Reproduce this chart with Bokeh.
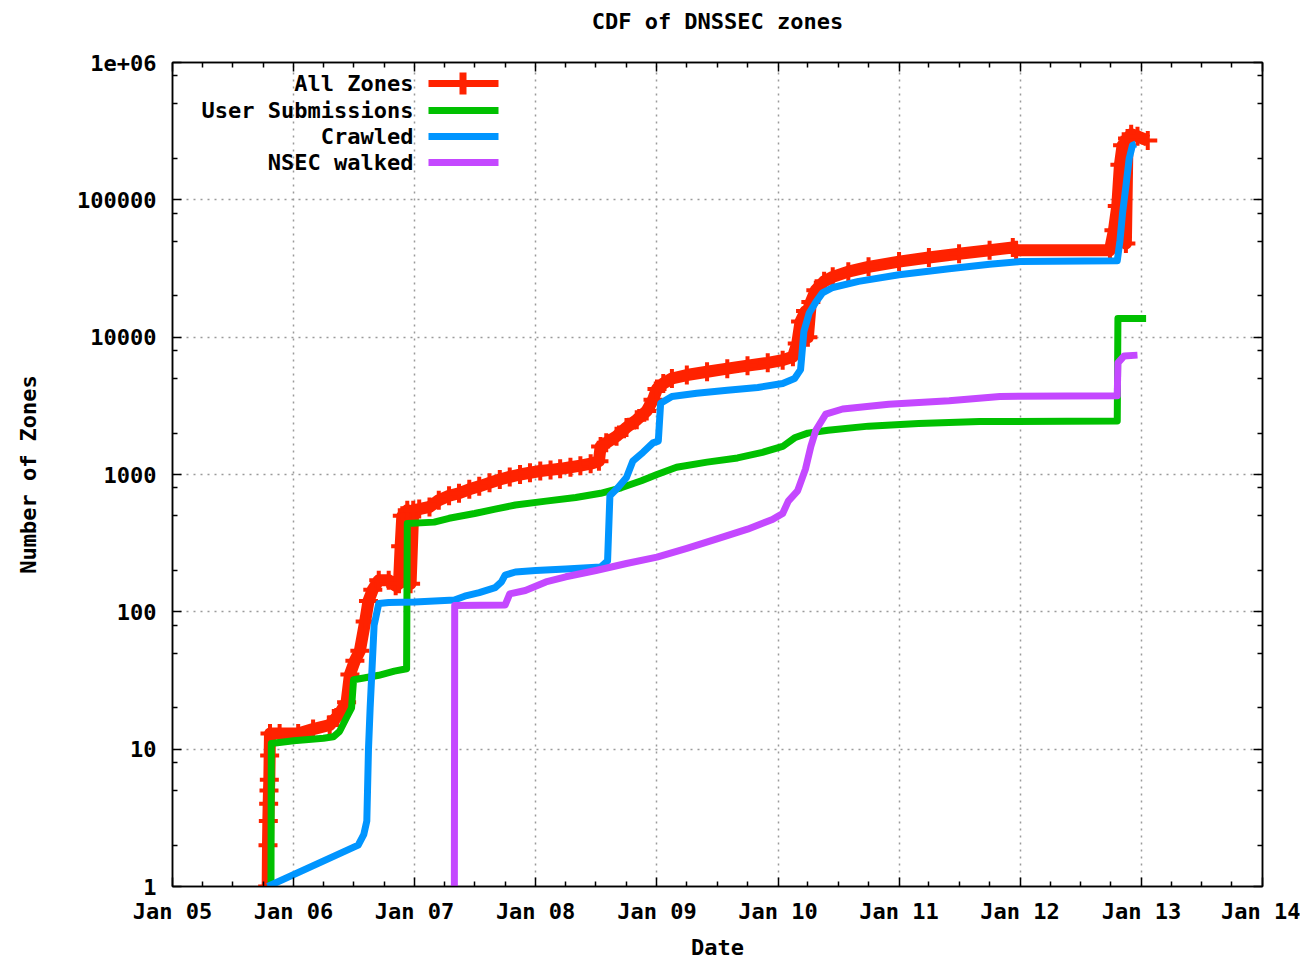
import pandas as pd
from bokeh.plotting import figure
from bokeh.models import (FixedTicker, CustomJSTickFormatter, LinearAxis, LogAxis,
                          Label, BoxAnnotation, Range1d)
from bokeh.embed import file_html
from bokeh.resources import INLINE

# ---------------- data ----------------
all_dates = ["2005-10-15", "2005-10-16", "2005-10-17", "2005-10-18", "2005-10-19", "2005-10-20",
             "2005-10-21", "2005-10-22", "2005-11-20", "2006-01-15", "2006-03-01", "2006-04-20",
             "2006-05-10", "2006-05-25", "2006-06-10", "2006-06-20", "2006-07-05", "2006-07-20",
             "2006-08-05", "2006-08-15", "2006-08-28", "2006-09-15", "2006-10-15", "2006-11-05",
             "2006-11-15", "2006-11-20", "2006-11-25", "2006-12-10", "2006-12-20", "2006-12-28",
             "2007-01-15", "2007-02-15", "2007-03-15", "2007-04-15", "2007-05-15", "2007-06-15",
             "2007-07-15", "2007-08-15", "2007-09-15", "2007-10-15", "2007-11-15", "2007-12-15",
             "2008-01-15", "2008-02-15", "2008-03-15", "2008-04-15", "2008-05-15", "2008-06-15",
             "2008-07-10", "2008-07-15", "2008-08-01", "2008-09-01", "2008-10-01", "2008-11-01",
             "2008-12-01", "2008-12-20", "2009-01-01", "2009-01-20", "2009-02-15", "2009-04-01",
             "2009-06-01", "2009-08-01", "2009-10-01", "2009-12-01", "2010-01-15", "2010-02-15",
             "2010-02-28", "2010-03-10", "2010-03-25", "2010-04-01", "2010-04-10", "2010-04-25",
             "2010-05-20", "2010-06-15", "2010-08-01", "2010-10-01", "2011-01-01", "2011-04-01",
             "2011-07-01", "2011-10-01", "2011-12-10", "2011-12-20", "2012-09-28", "2012-10-10",
             "2012-10-20", "2012-10-28", "2012-11-05", "2012-11-15", "2012-11-20", "2012-12-01",
             "2012-12-20", "2013-01-20"]
all_vals = [1, 2, 3, 4, 5, 6,
            9, 13, 13, 13, 14, 15,
            17, 19, 22, 35, 44, 52,
            85, 120, 145, 170, 170, 155,
            160, 300, 500, 550, 160, 550,
            560, 580, 650, 700, 730, 780,
            820, 870, 920, 960, 1000, 1030,
            1060, 1080, 1100, 1130, 1160, 1200,
            1250, 1600, 1700, 1900, 2200, 2500,
            2900, 3500, 4200, 4600, 5000, 5300,
            5600, 5900, 6200, 6500, 6800, 7200,
            9000, 13000, 15500, 10000, 18000, 22000,
            25500, 27500, 30000, 32500, 35500, 38000,
            40500, 43000, 45000, 43000, 43000, 60000,
            90000, 180000, 250000, 48000, 280000, 300000,
            290000, 270000]

user_dates = ["2005-10-25", "2005-10-26", "2006-01-01", "2006-04-01", "2006-05-01", "2006-05-20",
              "2006-06-10", "2006-06-25", "2006-07-01", "2006-08-01", "2006-09-15", "2006-11-01",
              "2006-12-08", "2006-12-10", "2007-03-01", "2007-04-15", "2007-07-01", "2007-09-01",
              "2007-11-01", "2008-02-01", "2008-05-01", "2008-07-15", "2008-09-15", "2008-11-15",
              "2009-01-01", "2009-03-01", "2009-06-01", "2009-09-01", "2009-11-15", "2010-01-15",
              "2010-02-20", "2010-04-01", "2010-06-01", "2010-10-01", "2011-03-01", "2011-09-01",
              "2012-10-20", "2012-10-22", "2013-01-15"]
user_vals = [1, 11, 11.5, 12, 12.3, 13.5,
             17, 20, 32, 33, 34.5, 37,
             38.5, 440, 450, 480, 520, 560,
             600, 640, 680, 730, 800, 900,
             1000, 1130, 1230, 1320, 1450, 1600,
             1850, 2000, 2100, 2250, 2350, 2430,
             2450, 13700, 13700]

crawl_dates = ["2005-10-15", "2006-07-15", "2006-08-01", "2006-08-10", "2006-08-15", "2006-08-20",
               "2006-09-01", "2006-09-15", "2006-10-15", "2007-01-01", "2007-05-01", "2007-06-01",
               "2007-07-15", "2007-09-01", "2007-09-20", "2007-10-01", "2007-11-01", "2008-01-01",
               "2008-04-01", "2008-07-15", "2008-08-05", "2008-08-12", "2008-09-05", "2008-10-01",
               "2008-10-20", "2008-11-20", "2008-12-20", "2009-01-05", "2009-01-12", "2009-02-15",
               "2009-05-01", "2009-08-01", "2009-11-01", "2010-01-15", "2010-02-20", "2010-03-10",
               "2010-03-20", "2010-04-05", "2010-04-25", "2010-05-15", "2010-06-15", "2010-09-01",
               "2011-01-01", "2011-06-01", "2011-10-01", "2012-01-01", "2012-10-20", "2012-10-28",
               "2012-11-05", "2012-11-15", "2012-11-25", "2012-12-05", "2012-12-15"]
crawl_vals = [1, 2, 2.4, 3, 10, 20,
              80, 115, 117, 118, 122, 130,
              138, 150, 165, 185, 195, 200,
              205, 212, 235, 700, 800, 950,
              1250, 1450, 1700, 1750, 3300, 3700,
              3900, 4100, 4300, 4600, 5000, 5800,
              11000, 15000, 18000, 21000, 23000, 25500,
              28500, 31500, 34000, 35500, 36000, 50000,
              80000, 125000, 200000, 250000, 255000]

nsec_dates = ["2007-05-01", "2007-05-02", "2007-10-01", "2007-10-15", "2007-12-01", "2008-02-01",
              "2008-04-01", "2008-07-01", "2008-10-01", "2009-01-01", "2009-04-01", "2009-07-01",
              "2009-10-01", "2009-12-15", "2010-01-15", "2010-02-01", "2010-03-01", "2010-03-25",
              "2010-04-10", "2010-04-25", "2010-05-25", "2010-07-15", "2010-12-01", "2011-06-01",
              "2011-11-01", "2012-10-20", "2012-10-22", "2012-11-10", "2012-12-20"]
nsec_vals = [1, 111, 112, 135, 143, 165,
             180, 200, 225, 250, 290, 340,
             400, 470, 520, 640, 760, 1100,
             1600, 2100, 2750, 3000, 3250, 3450,
             3700, 3750, 6500, 7300, 7400]

series_names = ["All Zones", "User Submissions", "Crawled", "NSEC walked"]
series_colors = ["#ff2200", "#00c000", "#0095ff", "#c448ff"]

year_ticks = [f"{y}-01-01" for y in range(2005, 2015)]
quarter_ticks = [f"{y}-{m:02d}-01" for y in range(2005, 2014) for m in (4, 7, 10)]
y_ticks = [1, 10, 100, 1000, 10000, 100000, 1000000]
y_minor = [m * 10 ** e for e in range(0, 6) for m in (2, 5, 8)]

FONT = "DejaVu Sans Mono"
FSIZE = "22px"


def to_ms(dates):
    return [pd.Timestamp(d).value / 1e6 for d in dates]


W, H = 1300, 962
FL, FT, FR, FB = 172, 62, 1262, 886
p = figure(width=W, height=H, x_axis_type="datetime", y_axis_type="log",
           output_backend="svg", toolbar_location=None,
           x_range=Range1d(to_ms(["2005-01-01"])[0], to_ms(["2014-01-01"])[0]),
           y_range=Range1d(1, 1e6),
           min_border_left=FL, min_border_right=W - FR, min_border_top=FT,
           min_border_bottom=H - FB)
p.background_fill_color = "white"
p.border_fill_color = "white"
p.outline_line_color = "black"
p.outline_line_width = 1.5

xtick = FixedTicker(ticks=to_ms(year_ticks), minor_ticks=to_ms(quarter_ticks))
ytick = FixedTicker(ticks=y_ticks, minor_ticks=y_minor)

xfmt = CustomJSTickFormatter(code="""
const d = new Date(tick); const y = d.getUTCFullYear() % 100;
return "Jan " + (y < 10 ? "0" + y : "" + y);""")
yfmt = CustomJSTickFormatter(code="""
if (tick > 999999) return "1e+06"; return Math.round(tick).toString();""")
blank = CustomJSTickFormatter(code="return '';")


def style_axis(ax):
    ax.axis_line_color = "black"
    ax.axis_line_width = 1.5
    ax.major_tick_in = 9
    ax.major_tick_out = 0
    ax.minor_tick_in = 5
    ax.minor_tick_out = 0
    ax.major_tick_line_color = "black"
    ax.minor_tick_line_color = "black"
    ax.major_tick_line_width = 1.5
    ax.minor_tick_line_width = 1.5
    ax.major_label_text_font = FONT
    ax.major_label_text_font_size = FSIZE
    ax.major_label_text_font_style = "bold"
    ax.major_label_text_color = "black"
    ax.axis_label_text_font = FONT
    ax.axis_label_text_font_size = FSIZE
    ax.axis_label_text_font_style = "bold"
    ax.axis_label_text_color = "black"


xa = p.xaxis[0]
xa.ticker = xtick
xa.formatter = xfmt
xa.axis_label = "Date"
style_axis(xa)
xa.major_label_standoff = 12
xa.axis_label_standoff = 8

ya = p.yaxis[0]
ya.ticker = ytick
ya.formatter = yfmt
ya.axis_label = "Number of Zones"
style_axis(ya)
ya.major_label_standoff = 16
ya.axis_label_standoff = 33

# top mirror axis carries the chart title as its label
top = LinearAxis(ticker=xtick, formatter=blank, axis_label="CDF of DNSSEC zones")
style_axis(top)
top.major_label_standoff = 0
top.axis_label_standoff = 29
p.add_layout(top, "above")
right = LogAxis(ticker=ytick, formatter=blank)
style_axis(right)
right.major_label_standoff = 0
p.add_layout(right, "right")

for g in (p.xgrid[0], p.ygrid[0]):
    g.grid_line_color = "#9a9a9a"
    g.grid_line_dash = "2 5"
    g.grid_line_width = 1.5

# series: drawn in gnuplot order
p.line(to_ms(all_dates), all_vals, color=series_colors[0], line_width=12, line_join="round")
p.scatter(to_ms(all_dates), all_vals, marker="cross", size=19, line_width=4,
          color=series_colors[0])
p.line(to_ms(user_dates), user_vals, color=series_colors[1], line_width=7, line_join="round")
p.line(to_ms(crawl_dates), crawl_vals, color=series_colors[2], line_width=7, line_join="round")
p.line(to_ms(nsec_dates), nsec_vals, color=series_colors[3], line_width=7, line_join="round")

frame_h = FB - FT

# legend (label text to the left of the sample, as in gnuplot)
row_y = [83, 110, 136, 162]  # page rows of the legend entries
for name, col, ry in zip(series_names, series_colors, row_y):
    ys = frame_h - (ry - FT)
    p.add_layout(Label(x=241, y=ys, x_units="screen", y_units="screen", text=name,
                       text_align="right", text_baseline="middle", text_font=FONT,
                       text_font_size=FSIZE, text_font_style="bold", text_color="black"))
    p.add_layout(BoxAnnotation(left=256, right=326, bottom=ys - 3.5, top=ys + 3.5,
                               left_units="screen", right_units="screen",
                               bottom_units="screen", top_units="screen",
                               fill_color=col, fill_alpha=1, line_alpha=0))
# cross on the "All Zones" sample
ys0 = frame_h - (row_y[0] - FT)
p.add_layout(BoxAnnotation(left=287, right=294, bottom=ys0 - 11, top=ys0 + 11,
                           left_units="screen", right_units="screen",
                           bottom_units="screen", top_units="screen",
                           fill_color=series_colors[0], fill_alpha=1, line_alpha=0))

open("out.html", "w").write(file_html(p, INLINE))
